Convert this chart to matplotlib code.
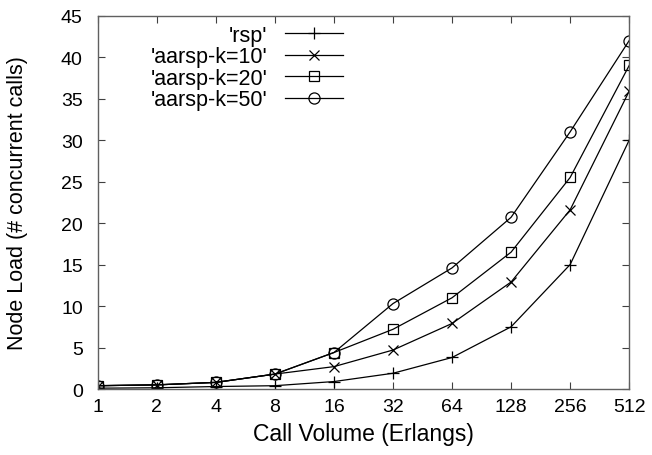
#!/usr/bin/env python

"""
  plot.py
"""

import matplotlib
matplotlib.use('Agg')
from matplotlib import pyplot as plt
from matplotlib.ticker import FixedLocator, FixedFormatter, MultipleLocator

plt.rcParams['font.family'] = ['Liberation Sans', 'DejaVu Sans']

# --
# data

volume   = [1, 2, 4, 8, 16, 32, 64, 128, 256, 512]
rsp      = [0.1, 0.15, 0.3, 0.4, 0.9, 1.9, 3.8, 7.5, 15.0, 30.0]
aarsp10  = [0.4, 0.5, 0.8, 1.8, 2.7, 4.7, 7.9, 12.9, 21.6, 35.9]
aarsp20  = [0.4, 0.5, 0.8, 1.8, 4.4, 7.2, 11.0, 16.5, 25.5, 39.0]
aarsp50  = [0.4, 0.5, 0.8, 1.8, 4.4, 10.3, 14.6, 20.7, 31.0, 42.0]

# --

def do_plot():
  fig = plt.figure(figsize=(6.52, 4.56), dpi=100)
  ax = fig.add_axes([0.150, 0.1447, 0.815, 0.8187])

  lw = 0.9
  ax.plot(volume, rsp, c='black', lw=lw, marker='+', ms=8.5, mew=0.9, label="'rsp'")
  ax.plot(volume, aarsp10, c='black', lw=lw, marker='x', ms=7.5, mew=0.9, label="'aarsp-k=10'")
  ax.plot(volume, aarsp20, c='black', lw=lw, marker='s', ms=7.5, mew=0.9, mfc='none', label="'aarsp-k=20'")
  ax.plot(volume, aarsp50, c='black', lw=lw, marker='o', ms=8, mew=0.9, mfc='none', label="'aarsp-k=50'")

  ax.set_xscale('log', base=2)
  ax.set_xlim(1, 512)
  ax.set_ylim(0, 45)
  ax.xaxis.set_major_locator(FixedLocator(volume))
  ax.xaxis.set_major_formatter(FixedFormatter([str(v) for v in volume]))
  ax.xaxis.set_minor_locator(FixedLocator([]))
  ax.yaxis.set_major_locator(MultipleLocator(5))

  ax.tick_params(direction='in', length=5, width=0.8, top=True, right=True,
                 labelsize=14, colors='#404040', labelcolor='black')
  ax.tick_params(axis='x', pad=6.7)
  ax.tick_params(axis='y', pad=10.8)
  for s in ax.spines.values():
    s.set_color('#606060')
    s.set_linewidth(1.0)

  ax.set_xlabel('Call Volume (Erlangs)', fontsize=16.5, labelpad=4.5)
  ax.set_ylabel('Node Load (# concurrent calls)', fontsize=15.5)
  ax.yaxis.set_label_coords(-0.132, 0.5)

  ax.legend(loc='upper right', bbox_to_anchor=(0.461, 0.975), frameon=False,
            markerfirst=False, fontsize=15.5, handlelength=2.7,
            labelspacing=0.02, handletextpad=0.79, borderpad=0.0,
            borderaxespad=0.0)

  plt.savefig('out.png', dpi=100)

do_plot()
